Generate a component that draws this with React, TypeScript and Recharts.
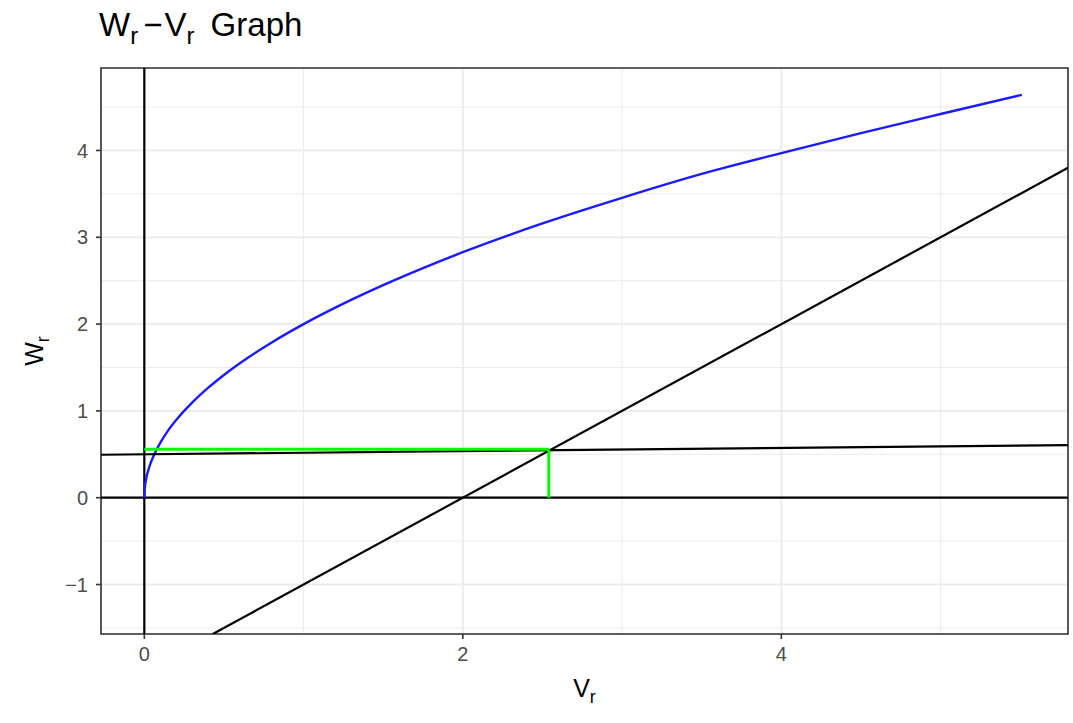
import React from 'react';
import {
  ComposedChart,
  Line,
  XAxis,
  YAxis,
  CartesianGrid,
  ReferenceLine,
  ReferenceArea,
  Label,
} from 'recharts';

// ---- data ----
const xDomain: [number, number] = [-0.272, 5.8];
const yDomain: [number, number] = [-1.57, 4.95];
const xTicks = [0, 2, 4];
const yTicks = [-1, 0, 1, 2, 3, 4];
const xMinorTicks = [1, 3, 5];
const yMinorTicks = [-1.5, -0.5, 0.5, 1.5, 2.5, 3.5, 4.5];

// blue curve W_r(V_r)
const curveV = [0, 0.002, 0.01, 0.03, 0.06, 0.1, 0.15, 0.2, 0.3, 0.4, 0.5, 0.65, 0.8, 1, 1.25, 1.5, 1.75, 2, 2.5, 3, 3.5, 4, 4.5, 5, 5.51];
const curveW = [0, 0.09, 0.2, 0.346, 0.49, 0.632, 0.775, 0.894, 1.095, 1.265, 1.414, 1.612, 1.789, 2.0, 2.236, 2.449, 2.645, 2.828, 3.16, 3.455, 3.73, 3.97, 4.2, 4.42, 4.64];

// nearly flat black line
const flatV = [-0.272, 5.8];
const flatW = [0.495, 0.605];

// diagonal black line
const diagV = [0.43, 5.8];
const diagW = [-1.57, 3.8];

// green construction lines
const greenHV = [0, 2.54];
const greenHW = [0.557, 0.557];
const greenVV = [2.54, 2.54];
const greenVW = [0, 0.557];

const zip = (vs: number[], ws: number[]) => vs.map((v, i) => ({ v, w: ws[i] }));

const curveData = zip(curveV, curveW);
const flatData = zip(flatV, flatW);
const diagData = zip(diagV, diagW);
const greenHData = zip(greenHV, greenHW);
const greenVData = zip(greenVV, greenVW);

const FONT = '"Liberation Sans", Arial, Helvetica, sans-serif';

const XTitle = (props: any) => {
  const vb = props.viewBox || {};
  const cx = vb.x + vb.width / 2;
  const y = vb.y + 63;
  return (
    <text x={cx} y={y} textAnchor="middle" fontFamily={FONT} fontSize={25} fill="#000">
      V<tspan fontSize={18} dy={6}>r</tspan>
    </text>
  );
};

const YTitle = (props: any) => {
  const vb = props.viewBox || {};
  const cy = vb.y + vb.height / 2;
  const x = vb.x + 2;
  return (
    <text
      x={x}
      y={cy}
      textAnchor="middle"
      fontFamily={FONT}
      fontSize={25}
      fill="#000"
      transform={`rotate(-90, ${x}, ${cy})`}
    >
      W<tspan fontSize={18} dy={6}>r</tspan>
    </text>
  );
};

const lineCommon = {
  dataKey: 'w',
  dot: false as const,
  activeDot: false as const,
  isAnimationActive: false,
};

export default function App() {
  return (
    <div style={{ position: 'absolute', left: 0, top: 0, width: 1073, height: 723, background: '#fff' }}>
      <svg
        width={1073}
        height={60}
        style={{ position: 'absolute', left: 0, top: 0, pointerEvents: 'none' }}
      >
        <text x={99} y={36} fontFamily={FONT} fontSize={33} fill="#000">
          W<tspan fontSize={24} dy={8}>r</tspan>
          <tspan dy={-8} dx={5}>−</tspan>
          <tspan dx={2}>V</tspan>
          <tspan fontSize={24} dy={8}>r</tspan>
          <tspan dy={-8} dx={7}> Graph</tspan>
        </text>
      </svg>
      <ComposedChart
        width={1073}
        height={723}
        margin={{ top: 68, right: 5, bottom: 49, left: 41 }}
        style={{ fontFamily: FONT }}
      >
        <XAxis
          xAxisId="minor"
          dataKey="v"
          type="number"
          domain={xDomain}
          ticks={xMinorTicks}
          allowDataOverflow
          hide
        />
        <YAxis
          yAxisId="minor"
          dataKey="w"
          type="number"
          domain={yDomain}
          ticks={yMinorTicks}
          allowDataOverflow
          hide
        />
        <CartesianGrid xAxisId="minor" yAxisId="minor" stroke="#EBEBEB" strokeWidth={1} />
        <CartesianGrid stroke="#EBEBEB" strokeWidth={1.8} />
        <XAxis
          dataKey="v"
          type="number"
          domain={xDomain}
          ticks={xTicks}
          allowDataOverflow
          height={40}
          axisLine={false}
          tickSize={5}
          tickMargin={8}
          tickLine={{ stroke: '#333333', strokeWidth: 1.6 }}
          tick={{ fill: '#4D4D4D', fontSize: 20, fontFamily: FONT }}
        >
          <Label content={<XTitle />} />
        </XAxis>
        <YAxis
          dataKey="w"
          type="number"
          domain={yDomain}
          ticks={yTicks}
          allowDataOverflow
          width={60}
          axisLine={false}
          tickSize={5}
          tickMargin={8}
          tickLine={{ stroke: '#333333', strokeWidth: 1.6 }}
          tick={{ fill: '#4D4D4D', fontSize: 20, fontFamily: FONT }}
          tickFormatter={(t: number) => (t < 0 ? `\u2212${Math.abs(t)}` : `${t}`)}
        >
          <Label content={<YTitle />} />
        </YAxis>
        <ReferenceLine x={0} stroke="#000" strokeWidth={2.2} />
        <ReferenceLine y={0} stroke="#000" strokeWidth={2.2} />
        <Line {...lineCommon} data={curveData} type="monotone" stroke="#1a1aff" strokeWidth={2.4} />
        <Line {...lineCommon} data={flatData} type="linear" stroke="#000" strokeWidth={2.2} />
        <Line {...lineCommon} data={diagData} type="linear" stroke="#000" strokeWidth={2.2} />
        <Line {...lineCommon} data={greenHData} type="linear" stroke="#00FF00" strokeWidth={3} />
        <Line {...lineCommon} data={greenVData} type="linear" stroke="#00FF00" strokeWidth={3} />
        <ReferenceArea
          x1={xDomain[0]}
          x2={xDomain[1]}
          y1={yDomain[0]}
          y2={yDomain[1]}
          fill="none"
          fillOpacity={0}
          stroke="#333333"
          strokeWidth={1.6}
        />
      </ComposedChart>
    </div>
  );
}
